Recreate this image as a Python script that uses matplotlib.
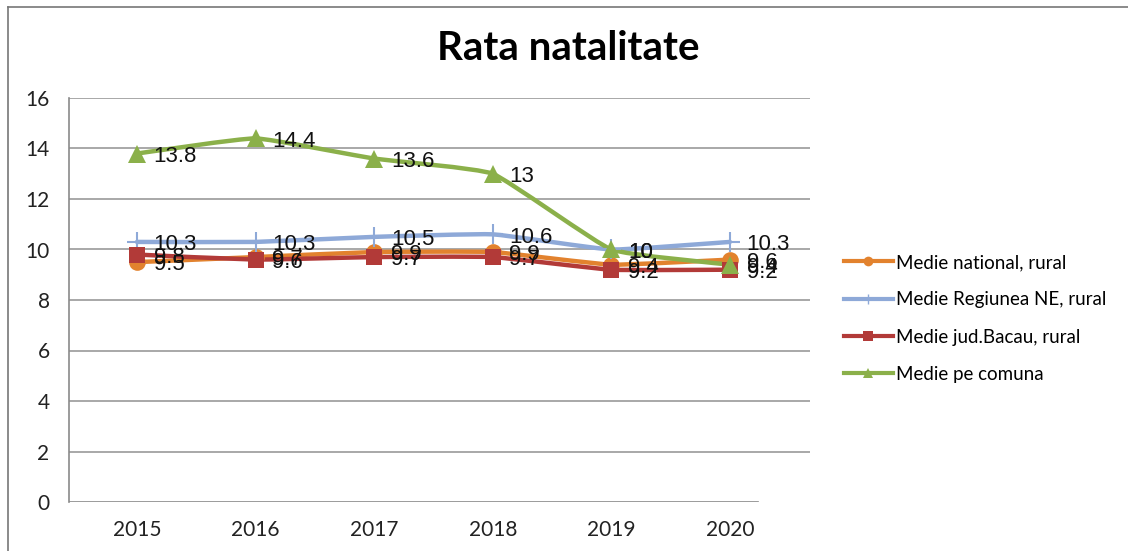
import numpy as np
import matplotlib
matplotlib.use("Agg")
import matplotlib.pyplot as plt
from matplotlib.path import Path
from matplotlib.patches import PathPatch
from matplotlib.lines import Line2D

years = ['2015', '2016', '2017', '2018', '2019', '2020']
national = [9.5, 9.7, 9.9, 9.9, 9.4, 9.6]
regiunea = [10.3, 10.3, 10.5, 10.6, 10.0, 10.3]
bacau = [9.8, 9.6, 9.7, 9.7, 9.2, 9.2]
comuna = [13.8, 14.4, 13.6, 13.0, 10.0, 9.4]
names = ['Medie national, rural', 'Medie Regiunea NE, rural',
         'Medie jud.Bacau, rural', 'Medie pe comuna']


def smooth_path(xs, ys, k=16.0):
    # bezier segments, a mild version of the excel "smoothed line"
    pts = np.column_stack([xs, ys]).astype(float)
    n = len(pts)
    verts = [pts[0]]
    codes = [Path.MOVETO]
    for i in range(n - 1):
        p0 = pts[max(i - 1, 0)]
        p1 = pts[i]
        p2 = pts[i + 1]
        p3 = pts[min(i + 2, n - 1)]
        c1 = p1 + (p2 - p0) / k
        c2 = p2 - (p3 - p1) / k
        verts += [c1, c2, p2]
        codes += [Path.CURVE4] * 3
    return Path(verts, codes)


plt.rcParams['font.family'] = ['Lato', 'DejaVu Sans']

fig = plt.figure(figsize=(11.28, 5.51), dpi=100)
ax = fig.add_axes([69 / 1128, 49 / 551, 741 / 1128, 404 / 551])

x = np.arange(len(years))
series = [
    (national, '#E2822E', 'o', 12),
    (regiunea, '#8EA9D8', '+', 15),
    (bacau, '#B23A38', 's', 12),
    (comuna, '#8BB04A', '^', 13),
]

for vals, col, mk, ms in series:
    ax.add_patch(PathPatch(smooth_path(x, vals), facecolor='none', edgecolor=col,
                           lw=3.2, capstyle='round', joinstyle='round', zorder=3))
    ax.plot(x, vals, linestyle='none', marker=mk, markersize=ms, color=col,
            markeredgewidth=1.5 if mk == '+' else 0, zorder=4)

for vals, col, mk, ms in series:
    for xi, v in zip(x, vals):
        ax.annotate('%g' % v, (xi, v), xytext=(12, -2), textcoords='offset points',
                    va='center', ha='left', fontsize=16,
                    family=['Liberation Sans', 'DejaVu Sans'], color='#111111', zorder=6)

ax.set_xlim(-0.573, 5.675)
ax.set_ylim(0, 16)
ax.set_yticks(np.arange(0, 17, 2))
ax.set_xticks(x)
ax.set_xticklabels(years)
ax.tick_params(length=0, labelsize=15, colors='#222222')
ax.tick_params(axis='y', pad=14)
ax.tick_params(axis='x', pad=13)
ax.yaxis.grid(True, color='#9a9a9a', lw=1.2)
ax.set_axisbelow(True)
for s in ['top', 'right', 'bottom']:
    ax.spines[s].set_visible(False)
ax.spines['left'].set_color('#8a8a8a')
ax.spines['left'].set_linewidth(1.2)
ax.axhline(0, xmin=0, xmax=(758 - 69) / 741, color='#8a8a8a', lw=1.2, zorder=2)
ax.yaxis.get_gridlines()[0].set_visible(False)

fig.text(568 / 1128, 1 - 48 / 551, 'Rata natalitate', ha='center', va='center',
         fontsize=29, fontweight='bold', color='black')

handles = []
for vals, col, mk, ms in series:
    handles.append(Line2D([], [], color=col, lw=3, marker=mk, markersize=7,
                          markeredgewidth=1 if mk == '+' else 0))
fig.legend(handles, names, loc='upper left', bbox_to_anchor=(844 / 1128, 1 - 254 / 551),
           frameon=False, fontsize=13.5, handlelength=2.6, handletextpad=0.15,
           labelspacing=1.08, borderpad=0, borderaxespad=0)

# outer chart border (left and top only visible)
fig.add_artist(Line2D([8 / 1128, 8 / 1128], [0, 1 - 7 / 551], transform=fig.transFigure,
                      color='#777777', lw=1.2))
fig.add_artist(Line2D([8 / 1128, 1], [1 - 7 / 551, 1 - 7 / 551], transform=fig.transFigure,
                      color='#777777', lw=1.2))

fig.savefig('out.png', dpi=100)
